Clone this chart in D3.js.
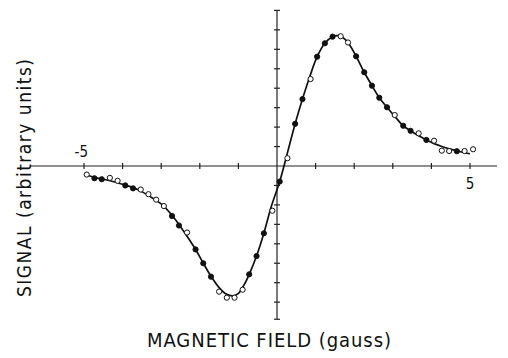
<!DOCTYPE html>
<html>
<head>
<meta charset="utf-8">
<script src="https://cdn.jsdelivr.net/npm/d3@7"></script>
<style>
  html, body { margin: 0; padding: 0; background: #fff; }
  svg { display: block; }
  .axis line, .axis path { stroke: #222; stroke-width: 1.2; }
  text { font-family: "DejaVu Sans Condensed", "DejaVu Sans", sans-serif; fill: #111; }
</style>
</head>
<body>
<div id="chart"></div>
<script>
// measured points (gauss, arbitrary units) and whether the marker is filled
const fieldX = [-4.93, -4.73, -4.54, -4.33, -4.13, -3.93, -3.73, -3.53, -3.33, -3.13,
  -2.93, -2.72, -2.54, -2.33, -2.11, -1.91, -1.71, -1.50, -1.30, -1.10,
  -0.89, -0.72, -0.53, -0.34, -0.12, 0.07, 0.27, 0.47, 0.66, 0.87,
  1.04, 1.24, 1.44, 1.65, 1.84, 2.05, 2.26, 2.46, 2.65, 2.85,
  3.05, 3.27, 3.46, 3.67, 3.87, 4.07, 4.27, 4.46, 4.66, 4.86, 5.08];
const signalY = [-0.44, -0.63, -0.68, -0.61, -0.76, -1.00, -1.15, -1.21, -1.45, -1.73,
  -2.06, -2.57, -3.06, -3.42, -4.29, -5.00, -5.69, -6.46, -6.77, -6.77,
  -6.36, -5.57, -4.63, -3.46, -2.30, -0.80, 0.40, 2.17, 3.44, 4.47,
  5.62, 6.31, 6.65, 6.67, 6.35, 5.64, 4.82, 4.13, 3.51, 3.02,
  2.62, 2.07, 1.81, 1.68, 1.34, 1.30, 0.79, 0.77, 0.76, 0.77, 0.86];
const filled = [0, 1, 1, 0, 0, 1, 1, 0, 0, 0,
  0, 1, 1, 0, 1, 1, 1, 0, 0, 0,
  0, 1, 1, 1, 0, 1, 0, 1, 1, 0,
  1, 1, 1, 0, 0, 1, 1, 1, 1, 1,
  0, 1, 1, 0, 1, 0, 0, 0, 1, 0, 0];

// the drawn theoretical curve
const curveX = [-4.95, -4.7, -4.5, -4.2, -3.9, -3.6, -3.3, -3.0, -2.7, -2.5,
  -2.3, -2.1, -1.9, -1.7, -1.5, -1.3, -1.15, -1.0, -0.85, -0.72,
  -0.53, -0.34, -0.15, 0.07, 0.3, 0.47, 0.66, 0.85, 1.04, 1.24,
  1.44, 1.6, 1.8, 2.05, 2.26, 2.46, 2.65, 2.85, 3.05, 3.27,
  3.46, 3.67, 3.87, 4.07, 4.27, 4.46, 4.66, 4.86, 5.0];
const curveY = [-0.45, -0.6, -0.68, -0.82, -1.0, -1.22, -1.55, -1.95, -2.58, -3.12,
  -3.7, -4.32, -5.03, -5.7, -6.25, -6.6, -6.68, -6.55, -6.1, -5.57,
  -4.63, -3.46, -2.1, -0.8, 0.9, 2.17, 3.44, 4.6, 5.62, 6.31,
  6.65, 6.7, 6.45, 5.64, 4.82, 4.13, 3.51, 3.02, 2.55, 2.07,
  1.81, 1.55, 1.34, 1.15, 1.0, 0.88, 0.78, 0.68, 0.63];

const xTicks = [-5, -4, -3, -2, -1, 1, 2, 3, 4, 5];
const yTicks = [-7, -6, -5, -4, -3, -2, -1, 1, 2, 3, 4, 5, 6, 7, 8];
const xExtent = [-6.4, 5.7];
const yExtent = [-7.88, 8];

const width = 508, height = 358;

const svg = d3.select('#chart').append('svg')
  .attr('width', width)
  .attr('height', height);

const x = d3.scaleLinear().domain([-5, 5]).range([84, 470]);
const y = d3.scaleLinear().domain([-8, 8]).range([321.6, 10.4]);

// horizontal axis through zero
const xAxis = svg.append('g')
  .attr('class', 'axis')
  .attr('transform', `translate(0,${y(0)})`);
xAxis.append('line')
  .attr('x1', x(xExtent[0])).attr('x2', x(xExtent[1]));
xAxis.selectAll('.tick')
  .data(xTicks)
  .enter()
  .append('line')
  .attr('x1', d => x(d)).attr('x2', d => x(d))
  .attr('y1', -3).attr('y2', 3);

// vertical axis through zero
const yAxis = svg.append('g')
  .attr('class', 'axis')
  .attr('transform', `translate(${x(0)},0)`);
yAxis.append('line')
  .attr('y1', y(yExtent[0])).attr('y2', y(yExtent[1]));
yAxis.selectAll('.tick')
  .data(yTicks.concat([yExtent[0]]))
  .enter()
  .append('line')
  .attr('y1', d => y(d)).attr('y2', d => y(d))
  .attr('x1', -3).attr('x2', 3);

// end labels on the field axis
svg.append('text')
  .attr('x', x(-5) + 4)
  .attr('y', y(0) - 9)
  .attr('text-anchor', 'end')
  .style('font-size', '15px')
  .text('-5');
svg.append('text')
  .attr('x', x(5))
  .attr('y', y(0) + 22.5)
  .attr('text-anchor', 'middle')
  .style('font-size', '15px')
  .text('5');

// curve
const line = d3.line()
  .x(d => x(d[0]))
  .y(d => y(d[1]))
  .curve(d3.curveCatmullRom.alpha(0.5));

svg.append('path')
  .datum(curveX.map((d, i) => [d, curveY[i]]))
  .attr('d', line)
  .attr('fill', 'none')
  .attr('stroke', '#111')
  .attr('stroke-width', 1.7);

// data points
svg.selectAll('.pt')
  .data(fieldX.map((d, i) => ({ x: d, y: signalY[i], f: filled[i] })))
  .enter()
  .append('circle')
  .attr('class', 'pt')
  .attr('cx', d => x(d.x))
  .attr('cy', d => y(d.y))
  .attr('r', 2.6)
  .attr('fill', d => d.f ? '#111' : '#fff')
  .attr('stroke', '#111')
  .attr('stroke-width', 1);

// axis titles
svg.append('text')
  .attr('x', 269)
  .attr('y', 347)
  .attr('text-anchor', 'middle')
  .attr('textLength', 244)
  .attr('lengthAdjust', 'spacing')
  .style('font-size', '20px')
  .text('MAGNETIC FIELD (gauss)');

svg.append('text')
  .attr('transform', 'translate(31,178) rotate(-90)')
  .attr('text-anchor', 'middle')
  .attr('textLength', 238)
  .attr('lengthAdjust', 'spacing')
  .style('font-size', '19px')
  .text('SIGNAL (arbitrary units)');
</script>
</body>
</html>
